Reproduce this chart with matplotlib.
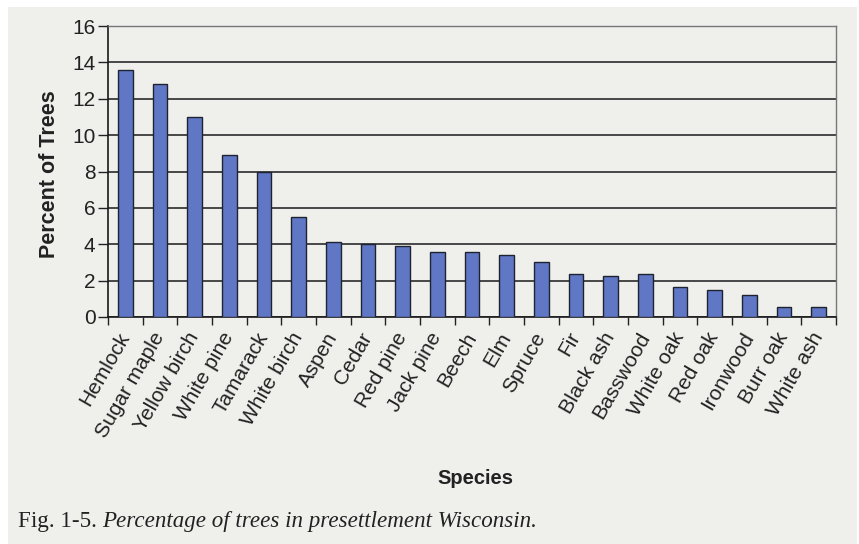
import numpy as np
import matplotlib
matplotlib.use("Agg")
import matplotlib.pyplot as plt
from matplotlib.patches import Rectangle

species = ["Hemlock", "Sugar maple", "Yellow birch", "White pine", "Tamarack",
           "White birch", "Aspen", "Cedar", "Red pine", "Jack pine", "Beech",
           "Elm", "Spruce", "Fir", "Black ash", "Basswood", "White oak",
           "Red oak", "Ironwood", "Burr oak", "White ash"]
percent = [13.6, 12.8, 11.0, 8.9, 8.0, 5.5, 4.1, 4.0, 3.9, 3.6, 3.55,
           3.4, 3.0, 2.35, 2.25, 2.35, 1.65, 1.5, 1.2, 0.55, 0.55]
y_ticks = [0, 2, 4, 6, 8, 10, 12, 14, 16]

bg = "#efefec"
ink = "#222222"
plt.rcParams["font.family"] = ["Liberation Sans", "DejaVu Sans"]

fig = plt.figure(figsize=(8.59, 5.44), dpi=100, facecolor="white")
# scanned page area (white margin on the left/top edges)
fig.patches.append(Rectangle((8 / 859, 0), 849 / 859, 1 - 7 / 544,
                             transform=fig.transFigure, facecolor=bg,
                             edgecolor="none", zorder=-10))

ax = fig.add_axes([108 / 859, 1 - 317 / 544, 728 / 859, 291 / 544])
ax.set_facecolor(bg)

x = np.arange(len(species))
ax.bar(x, percent, width=0.42, color="#5f77c4", edgecolor="#1f2330",
       linewidth=1.0, zorder=3)

ax.set_xlim(-0.5, len(species) - 0.5)
ax.set_ylim(0, 16)
ax.set_yticks(y_ticks)
ax.set_yticklabels([str(v) for v in y_ticks], fontsize=15, color=ink)
ax.yaxis.grid(True, color="#1a1a1a", linewidth=1.1, zorder=1)
ax.set_axisbelow(True)

# category ticks between bars, labels under bar centers
ax.set_xticks(np.arange(len(species) + 1) - 0.5)
ax.set_xticklabels([])
ax.set_xticks(x, minor=True)
ax.set_xticklabels(species, minor=True, rotation=60, ha="right", va="center",
                   rotation_mode="anchor", fontsize=15, color=ink)
ax.tick_params(axis="x", which="minor", length=0, pad=12)
ax.tick_params(axis="x", which="major", length=6, width=1.0, color=ink)
ax.tick_params(axis="y", length=7, width=1.0, color=ink, pad=2)

for side in ["left", "bottom"]:
    ax.spines[side].set_color("#1a1a1a")
    ax.spines[side].set_linewidth(1.2)
for side in ["top", "right"]:
    ax.spines[side].set_color("#777777")
    ax.spines[side].set_linewidth(1.0)

fig.text(50 / 859, 1 - 174 / 544, "Percent of Trees", rotation=90,
         ha="center", va="center", fontsize=15.5, fontweight="bold",
         color=ink)
fig.text(475 / 859, 1 - 479 / 544, "Species", ha="center", va="center",
         fontsize=14.5, fontweight="bold", color=ink)

# caption: upright figure number followed by italic text
cap_y = 1 - 521 / 544
num = fig.text(18 / 859, cap_y, "Fig. 1-5.", ha="left", va="center",
               fontsize=16.6, family="Liberation Serif", color=ink)
fig.canvas.draw()
bb = num.get_window_extent()
fig.text((bb.x1 + 5) / 859, cap_y,
         "Percentage of trees in presettlement Wisconsin.", ha="left",
         va="center", fontsize=16.6, family="Liberation Serif",
         style="italic", color=ink)

fig.savefig("out.png", dpi=100, facecolor=fig.get_facecolor())
